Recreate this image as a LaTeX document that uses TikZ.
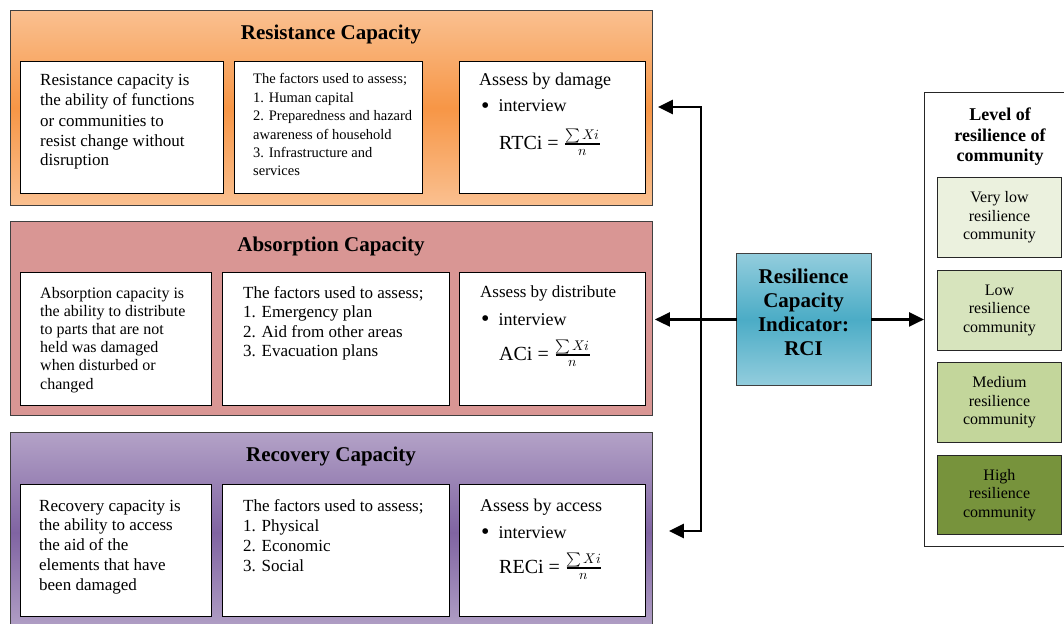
\documentclass[tikz,border=0pt]{standalone}
\usepackage{fontspec}
\usepackage{unicode-math}
\setmainfont{Liberation Serif}
\setmathfont{Latin Modern Math}
\usetikzlibrary{arrows.meta}
\definecolor{oL}{HTML}{FAC090}
\definecolor{oD}{HTML}{F79646}
\definecolor{pk}{HTML}{D99694}
\definecolor{vL}{HTML}{B3A2C7}
\definecolor{vD}{HTML}{8064A2}
\definecolor{bL}{HTML}{93CDDD}
\definecolor{bD}{HTML}{4BACC6}
\definecolor{gA}{HTML}{EBF1DE}
\definecolor{gB}{HTML}{D7E4BD}
\definecolor{gC}{HTML}{C3D69B}
\definecolor{gD}{HTML}{77933C}
\newcommand{\myfs}[2]{\fontsize{#1}{#2}\selectfont}
\newcommand{\mybul}{\raisebox{-1.5pt}{\fontsize{24}{24}\selectfont\textbullet}}
\newcommand{\myfrac}{\(\genfrac{}{}{1.4pt}{}{\sum Xi}{n}\)}
\begin{document}
\begin{tikzpicture}[x=1pt,y=-1pt,
 panel/.style={draw=black!75, line width=0.9pt, anchor=north west, inner sep=0pt, minimum width=642pt, minimum height=195pt},
 wbox/.style={draw=black, line width=0.9pt, fill=white, anchor=north west, inner sep=0pt},
 txt/.style={anchor=base west, inner sep=0pt},
 ttl/.style={anchor=base, inner sep=0pt, font=\bfseries\myfs{21}{25}},
 arr/.style={line width=2.4pt, line cap=rect, -{Triangle[length=15pt,width=14pt]}},
 conn/.style={line width=2.4pt, line cap=rect},
 lvlbox/.style={draw=black!85, line width=0.9pt, anchor=north west, minimum width=124pt, minimum height=80pt, align=center, inner sep=0pt, font=\myfs{16}{18.7}}
]
\useasboundingbox (0,0) rectangle (1064,623);

% panels
\node[panel, top color=oL, bottom color=oL, middle color=oD] (p1) at (10,10) {};
\node[panel, fill=pk, minimum height=194pt] (p2) at (10,221) {};
\node[panel, top color=vL, bottom color=vL, middle color=vD, minimum height=200pt] (p3) at (10,432) {};

\node[ttl] (p1t) at (331,40) {Resistance Capacity};
\node[ttl] (p2t) at (331,251) {Absorption Capacity};
\node[ttl] (p3t) at (331,461) {Recovery Capacity};

% inner boxes
\node[wbox, minimum width=203pt, minimum height=132pt] (a1) at (20,61) {};
\node[wbox, minimum width=188pt, minimum height=132pt] (a2) at (234,61) {};
\node[wbox, minimum width=186pt, minimum height=132pt] (a3) at (459,61) {};
\node[wbox, minimum width=191pt, minimum height=133pt] (b1) at (20,272) {};
\node[wbox, minimum width=227pt, minimum height=133pt] (b2) at (222,272) {};
\node[wbox, minimum width=186pt, minimum height=133pt] (b3) at (459,272) {};
\node[wbox, minimum width=191pt, minimum height=132pt] (c1) at (20,484) {};
\node[wbox, minimum width=227pt, minimum height=132pt] (c2) at (222,484) {};
\node[wbox, minimum width=186pt, minimum height=132pt] (c3) at (459,484) {};

% texts panel 1
\node[txt, font=\myfs{17}{20}] (a1t) at (40,86) {\parbox[t]{180pt}{\raggedright Resistance capacity is\\the ability of functions\\or communities to\\resist change without\\disruption}};
\node[txt, font=\myfs{14.5}{18.4}] (a2t) at (253,84) {\parbox[t]{170pt}{\raggedright The factors used to assess;\\1. Human capital\\2. Preparedness and hazard\\awareness of household\\3. Infrastructure and\\services}};
\node[txt, font=\myfs{18}{22}] (a3h) at (479,86) {Assess by damage};
\node[txt, font=\myfs{18}{22}] (a3b) at (481,112) {\mybul\hspace{9pt}interview};
\node[txt, font=\myfs{20}{24}] (a3f) at (499,149) {RTCi =\;\myfrac};

% texts panel 2
\node[txt, font=\myfs{16}{18.2}] (b1t) at (40,298) {\parbox[t]{170pt}{\raggedright Absorption capacity is\\the ability to distribute\\to parts that are not\\held was damaged\\when disturbed or\\changed}};
\node[txt, font=\myfs{17}{19.6}] (b2t) at (243,298) {\parbox[t]{200pt}{\raggedright The factors used to assess;\\1. Emergency plan\\2. Aid from other areas\\3. Evacuation plans}};
\node[txt, font=\myfs{17}{22}] (b3h) at (480,297) {Assess by distribute};
\node[txt, font=\myfs{18}{22}] (b3b) at (481,325) {\mybul\hspace{9pt}interview};
\node[txt, font=\myfs{20}{24}] (b3f) at (499,360) {ACi =\;\myfrac};

% texts panel 3
\node[txt, font=\myfs{17}{19.75}] (c1t) at (39,511) {\parbox[t]{170pt}{\raggedright Recovery capacity is\\the ability to access\\the aid of the\\elements that have\\been damaged}};
\node[txt, font=\myfs{17}{20}] (c2t) at (243,511) {\parbox[t]{200pt}{\raggedright The factors used to assess;\\1. Physical\\2. Economic\\3. Social}};
\node[txt, font=\myfs{18}{22}] (c3h) at (480,511) {Assess by access};
\node[txt, font=\myfs{18}{22}] (c3b) at (481,538) {\mybul\hspace{9pt}interview};
\node[txt, font=\myfs{20}{24}] (c3f) at (499,573) {RECi =\;\myfrac};

% RCI
\node[draw=black!75, line width=0.9pt, top color=bL, bottom color=bL, middle color=bD, anchor=north west, minimum width=135pt, minimum height=132pt, inner sep=0pt] (rci) at (736,253) {};
\node[anchor=base, inner sep=0pt, font=\bfseries\myfs{21}{24.3}] (rcit) at (803.5,283) {\parbox[t]{130pt}{\centering Resilience\\Capacity\\Indicator:\\RCI}};

% level box
\node[draw=black!85, line width=0.9pt, anchor=north west, minimum width=142pt, minimum height=454pt, inner sep=0pt] (lvl) at (924,92) {};
\node[anchor=base, inner sep=0pt, font=\bfseries\myfs{18}{20.5}] (lvlt) at (1000,120.7) {\parbox[t]{130pt}{\centering Level of\\resilience of\\community}};
\node[lvlbox, fill=gA] (vlo) at (937,177) {Very low\\resilience\\community};
\node[lvlbox, fill=gB] (low) at (937,270) {Low\\resilience\\community};
\node[lvlbox, fill=gC] (med) at (937,362) {Medium\\resilience\\community};
\node[lvlbox, fill=gD, minimum height=79pt] (hig) at (937,455) {High\\resilience\\community};

% connectors
\coordinate (jt) at (701,107);
\coordinate (jb) at (701,531);
\draw[conn] (jt) -- (jb);
\draw[arr, shorten >=5pt] (jt) -- (p1.east |- jt);
\draw[arr, shorten >=2pt] (rci.west) -- (p2.east |- rci.west);
\draw[arr, shorten >=16pt] (jb) -- (p3.east |- jb);
\draw[arr] (rci.east) -- (lvl.west |- rci.east);
\end{tikzpicture}
\end{document}
